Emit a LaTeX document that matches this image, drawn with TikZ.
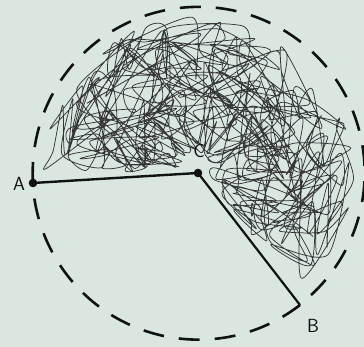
\documentclass[tikz,border=0pt]{standalone}
\usepackage{tikz}
\definecolor{bg}{HTML}{DAE7E1}
\definecolor{ink}{HTML}{111111}
\definecolor{scrib}{HTML}{363636}
\tikzset{
  ring/.style={draw=ink, line width=2.6pt, dash pattern=on 21pt off 15pt},
  radius line/.style={draw=ink, line width=2.4pt},
  dotmark/.style={fill=ink},
  scribble/.style={draw=scrib, line width=0.75pt, line join=round},
  lbl/.style={font=\sffamily\fontsize{19}{19}\selectfont, text=ink, inner sep=0pt}
}
\begin{document}
\begin{tikzpicture}[x=1pt,y=1pt]
\useasboundingbox (0,0) rectangle (364,347);
\fill[bg] (0,0) rectangle (364,347);
\coordinate (C) at (198,174);
\coordinate (A) at (33,164);
\coordinate (B) at (300,42);
% scribble
\pgfmathsetseed{2024}
\gdef\pts{}
\foreach \i in {0,...,480}{
  \pgfmathsetmacro\tw{1-abs(2*frac(\i*0.0105)-1)}
  \pgfmathsetmacro\t{-40+216*\tw+(rnd-0.5)*60}
  \pgfmathsetmacro\t{ifthenelse(\t>179,358-\t,ifthenelse(\t<-46,-92-\t,\t))}
  \pgfmathsetmacro\rw{1-abs(2*frac(\i*0.037+0.3)-1)}
  \pgfmathsetmacro\r{40+110*\rw+(rnd-0.5)*80}
  \pgfmathsetmacro\r{ifthenelse(\r>157,314-\r,ifthenelse(\r<18,36-\r,\r))}
  \pgfmathsetmacro\px{198+\r*cos(\t)}
  \pgfmathsetmacro\py{174+\r*sin(\t)}
  \xdef\pts{\pts (\px,\py)}
}
\edef\drawscribble{\noexpand\draw[scribble] plot[smooth, tension=0.45] coordinates {\pts};}
\drawscribble
% dashed circle in two arcs
\draw[ring] (A) arc[start angle=183.5, end angle=-52.3, radius=166];
\draw[ring] (B) arc[start angle=-52.3, end angle=-176.5, radius=166];
% radii
\draw[radius line] (A) -- (C);
\draw[radius line, line width=2.2pt] (C) -- (B);
\fill[dotmark] (A) circle[radius=4.3];
\fill[dotmark] (C) circle[radius=4.3];
% labels
\node[lbl] (la) at (19,163) {A};
\node[lbl] (lc) at (199,196) {C};
\node[lbl] (lb) at (313,21) {B};
\end{tikzpicture}
\end{document}
